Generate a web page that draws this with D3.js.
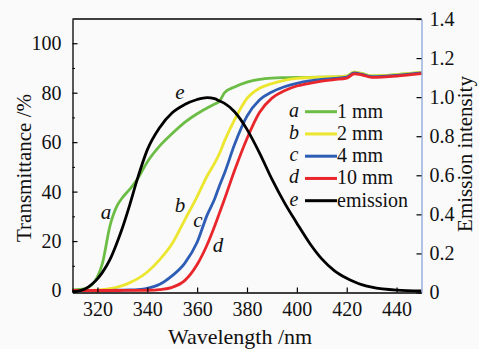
<!DOCTYPE html>
<html><head><meta charset="utf-8">
<script src="https://cdn.jsdelivr.net/npm/d3@7"></script>
<style>html,body{margin:0;padding:0;background:#fafafa;}svg{display:block;}
svg text{font-family:"Liberation Serif","DejaVu Serif",serif;}</style>
</head><body>
<script>
const wavelengths = [310,315,318,320,322,325,328,330,333,336,340,345,350,355,360,364,367,369,371,375,380,385,390,395,400,405,410,415,420,423,426,430,440,450];
const trans1mm  = [0.3,0.8,2.5,5.5,11,26,34.5,37.5,41,45,52,58.5,63.5,68,71.5,73.8,75.4,76.6,80,82.3,84.3,85.4,85.9,86.1,86.2,86.2,86.3,86.4,86.7,88.3,87.8,86.8,87.3,88.2];
const trans2mm  = [0,0,0.1,0.2,0.4,0.8,1.4,2,3.2,4.7,7.5,12.5,19,28.5,38,46.3,51.5,55.5,60.5,69,77.7,81.8,83.7,85,85.8,86.1,86.3,86.4,86.7,88.3,87.8,86.8,87.3,88.2];
const trans4mm  = [0,0,0,0,0,0.05,0.1,0.15,0.25,0.4,0.9,2.5,6,11,19.5,30.5,37,42.5,47.5,59,70.5,77,80.3,82.4,83.8,84.8,85.4,85.8,86.3,88,87.5,86.5,87,88];
const trans10mm = [0,0,0,0,0,0,0,0.02,0.03,0.05,0.1,0.4,1.3,4,10.5,18.5,26,31.5,37,48.5,61.5,72,77.8,80.8,82.7,83.8,84.7,85.3,85.9,87.6,87.2,86.2,86.7,87.7];
const emission  = [0.003,0.018,0.045,0.07,0.103,0.168,0.26,0.33,0.45,0.58,0.73,0.845,0.92,0.962,0.988,0.998,0.992,0.98,0.968,0.925,0.835,0.715,0.58,0.46,0.355,0.255,0.172,0.112,0.073,0.055,0.04,0.027,0.012,0.008];

const xTicks = [320,340,360,380,400,420,440];
const yLeftTicks = [0,20,40,60,80,100];
const yLeftMinor = [10,30,50,70,90];
const yRightTicks = [0,0.2,0.4,0.6,0.8,1.0,1.2,1.4];
const yRightLabels = ["0","0.2","0.4","0.6","0.8","1.0","1.2","1.4"];
const seriesLetters = ["a","b","c","d","e"];
const seriesNames = ["1 mm","2 mm","4 mm","10 mm","emission"];
const seriesColors = ["#6cbd45","#ece62e","#2d5db5","#e8262b","#000000"];

const W = 479, H = 349;
const L = 72.5, R = 421.5, T = 19, B = 292.5;

const svg = d3.select("body").append("svg").attr("width", W).attr("height", H);

const x = d3.scaleLinear().domain([310,450]).range([L,R]);
const yL = d3.scaleLinear().domain([-0.8,109.8]).range([B,T]);
const yR = d3.scaleLinear().domain([0,1.4]).range([B,T]);

const transSeries = [trans1mm, trans2mm, trans4mm, trans10mm];
const lineL = d3.line().x(d=>x(d[0])).y(d=>yL(d[1])).curve(d3.curveMonotoneX);
const lineR = d3.line().x(d=>x(d[0])).y(d=>yR(d[1])).curve(d3.curveMonotoneX);
const g = svg.append("g");
transSeries.forEach((s,i)=>{
  g.append("path").datum(wavelengths.map((w,j)=>[w,s[j]]))
   .attr("d", lineL).attr("fill","none").attr("stroke",seriesColors[i])
   .attr("stroke-width",2.8).attr("stroke-linejoin","round");
});
g.append("path").datum(wavelengths.map((w,j)=>[w,emission[j]]))
 .attr("d", lineR).attr("fill","none").attr("stroke",seriesColors[4])
 .attr("stroke-width",2.8);

function styleAxis(a, domainColor){
  a.attr("font-family", null);
  a.select(".domain").attr("stroke",domainColor).attr("stroke-width",1.3);
  a.selectAll(".tick line").attr("stroke","#000").attr("stroke-width",1.2);
  a.selectAll(".tick text").attr("font-size",20).attr("fill","#111");
}
const ax = svg.append("g").attr("transform",`translate(0,${B})`)
  .call(d3.axisBottom(x).tickValues(xTicks).tickSizeInner(-5).tickSizeOuter(0).tickPadding(9));
styleAxis(ax,"#000");
const ayl = svg.append("g").attr("transform",`translate(${L},0)`)
  .call(d3.axisLeft(yL).tickValues(yLeftTicks).tickSizeInner(-5).tickSizeOuter(0).tickPadding(11));
styleAxis(ayl,"#000");
svg.append("g").attr("transform",`translate(${L},0)`)
  .call(d3.axisLeft(yL).tickValues(yLeftMinor).tickSizeInner(-2.5).tickSizeOuter(0).tickFormat(""))
  .call(s=>{s.select(".domain").remove(); s.selectAll("line").attr("stroke","#000");});
const ayr = svg.append("g").attr("transform",`translate(${R},0)`)
  .call(d3.axisRight(yR).tickValues(yRightTicks).tickFormat((d,i)=>yRightLabels[i]).tickSizeInner(-5).tickSizeOuter(0).tickPadding(8));
styleAxis(ayr,"#8aa5d8");

svg.append("line").attr("x1",L).attr("x2",R).attr("y1",T).attr("y2",T)
  .attr("stroke","#000").attr("stroke-width",1.3);

svg.append("text").attr("x",(L+R)/2 - 7).attr("y",344).attr("text-anchor","middle")
  .attr("font-size",22).attr("fill","#111").text("Wavelength /nm");
svg.append("text").attr("transform","translate(31,168) rotate(-90)").attr("text-anchor","middle")
  .attr("font-size",21).attr("fill","#111").text("Transmittance /%");
svg.append("text").attr("transform","translate(472,154) rotate(-90)").attr("text-anchor","middle")
  .attr("font-size",21).attr("fill","#111").text("Emission intensity");

const leg = svg.append("g");
seriesNames.forEach((n,i)=>{
  const cy = 111.7 + i*22.25;
  leg.append("text").attr("x",294).attr("y",cy+5).attr("text-anchor","middle")
    .attr("font-style","italic").attr("font-size",20).attr("fill","#111").text(seriesLetters[i]);
  leg.append("line").attr("x1",305).attr("x2",337).attr("y1",cy).attr("y2",cy)
    .attr("stroke",seriesColors[i]).attr("stroke-width",3);
  leg.append("text").attr("x",337).attr("y",cy+6).attr("font-size",20).attr("fill","#111").text(n);
});

const curveLabels = [["a",106,214],["b",180,207],["c",198,222],["d",218,247],["e",180,94]];
curveLabels.forEach(([t,cx,cy])=>{
  svg.append("text").attr("x",cx).attr("y",cy+5).attr("text-anchor","middle")
    .attr("font-style","italic").attr("font-size",21).attr("fill","#111").text(t);
});
</script>
</body></html>
